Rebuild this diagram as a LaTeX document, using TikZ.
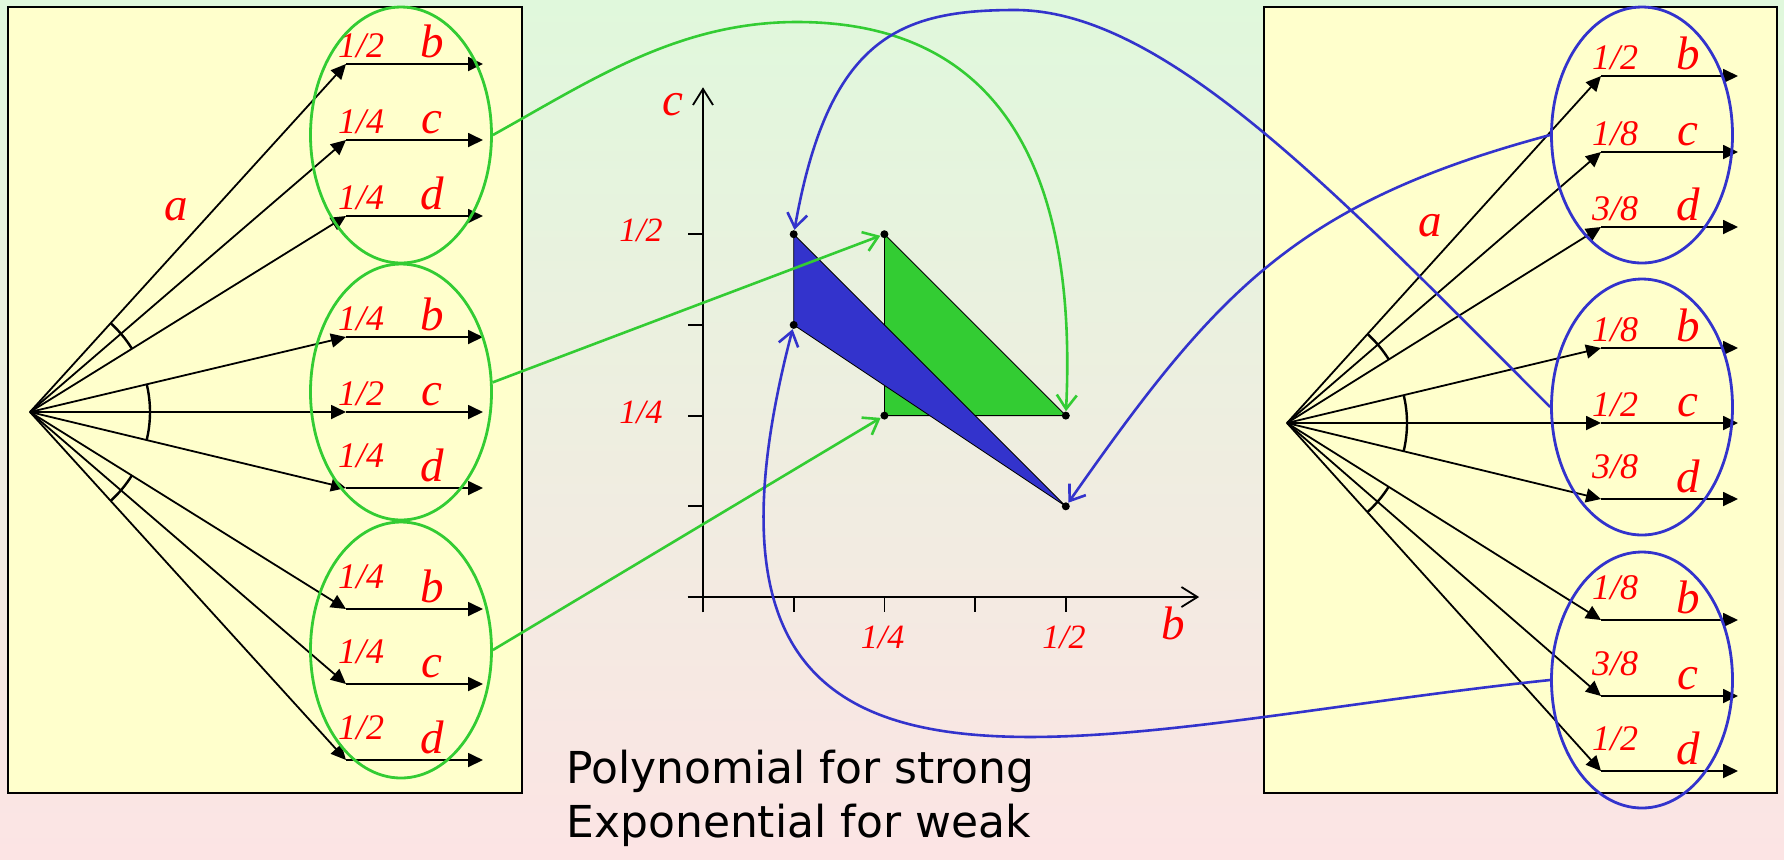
\documentclass[tikz,border=0pt]{standalone}
\usepackage{fontspec}
\setmainfont{Liberation Serif}
\newfontfamily\notefont{DejaVu Sans}
\usetikzlibrary{arrows.meta,shapes.geometric,angles}
\definecolor{paneltint}{HTML}{FFFFCC}
\definecolor{gline}{HTML}{33CC33}
\definecolor{bline}{HTML}{3333CC}
\definecolor{bgtop}{HTML}{E0F8DC}
\definecolor{bgbot}{HTML}{FCE4E4}

\begin{document}
\begin{tikzpicture}[x=0.5pt, y=0.5pt,
      panel/.style={draw=black, line width=0.6pt, fill=paneltint},
      branch/.style={line width=0.9pt, -{Triangle[length=7.5pt,width=7pt]}},
      grp/.style={ellipse, draw=#1, line width=1.4pt, minimum width=90.5pt, minimum height=128pt, inner sep=0pt},
      prob/.style={text=red, font=\fontsize{18}{20}\selectfont\itshape, inner sep=0pt, anchor=base},
      sym/.style={text=red, font=\fontsize{23.5}{26}\selectfont\itshape, inner sep=0pt, anchor=base},
      ticklab/.style={text=red, font=\fontsize{17}{19}\selectfont\itshape, inner sep=0pt},
      vtx/.style={circle, fill=black, minimum size=4pt, inner sep=0pt},
      link/.style={draw=#1, line width=1.3pt, -{Straight Barb[length=7pt,width=10pt]}},
      wedge/.style={draw, line width=1.2pt, angle radius=60pt},
      axis/.style={line width=0.9pt},
      note/.style={font=\notefont\fontsize{22}{27}\selectfont, anchor=base west, inner sep=0pt}]
    \shade[top color=bgtop, bottom color=bgbot] (0,0) rectangle (1784,-859);
    \useasboundingbox (0,0) rectangle (1784,-859);

    \draw[panel] (8,-7) rectangle (522,-793);
    \coordinate (lroot) at (30,-412);
    \foreach \i/\y/\f/\s/\o in {1/64/{1/2}/b/7, 2/140/{1/4}/c/7, 3/216/{1/4}/d/7, 4/337/{1/4}/b/7, 5/412/{1/2}/c/7, 6/488/{1/4}/d/21, 7/609/{1/4}/b/21, 8/684/{1/4}/c/21, 9/760/{1/2}/d/21} {
      \coordinate (l\i) at (346,-\y);
      \coordinate (lx\i) at (483,-\y);
      \draw[branch] (lroot) -- (l\i);
      \draw[branch] (l\i) -- (lx\i);
      \node[prob] (lp\i) at (361,-\y+\o) {\f};
      \node[sym] (ls\i) at (432,-\y+7) {\s};
    }
    \pic[wedge] {angle=l3--lroot--l1};
    \pic[wedge] {angle=l6--lroot--l4};
    \pic[wedge] {angle=l9--lroot--l7};
    \node[sym] (la) at (176,-220) {a};
    \node[grp=gline] (le1) at (401,-135) {};
    \node[grp=gline] (le2) at (401,-392) {};
    \node[grp=gline] (le3) at (401,-650) {};

    \draw[panel] (1264,-7) rectangle (1777,-793);
    \coordinate (rroot) at (1287,-423);
    \foreach \i/\y/\f/\s/\o in {1/76/{1/2}/b/7, 2/152/{1/8}/c/7, 3/227/{3/8}/d/7, 4/348/{1/8}/b/7, 5/423/{1/2}/c/7, 6/499/{3/8}/d/21, 7/620/{1/8}/b/21, 8/696/{3/8}/c/21, 9/771/{1/2}/d/21} {
      \coordinate (r\i) at (1601,-\y);
      \coordinate (rx\i) at (1738,-\y);
      \draw[branch] (rroot) -- (r\i);
      \draw[branch] (r\i) -- (rx\i);
      \node[prob] (rp\i) at (1615,-\y+\o) {\f};
      \node[sym] (rs\i) at (1688,-\y+7) {\s};
    }
    \pic[wedge] {angle=r3--rroot--r1};
    \pic[wedge] {angle=r6--rroot--r4};
    \pic[wedge] {angle=r9--rroot--r7};
    \node[sym] (ra) at (1430,-236) {a};
    \node[grp=bline] (re1) at (1642,-135) {};
    \node[grp=bline] (re2) at (1642,-407) {};
    \node[grp=bline] (re3) at (1642,-680) {};

    \begin{scope}[shift={(703,-597)}, x=45.35pt, y=45.35pt]
      \draw[axis, -{Straight Barb[length=8pt,width=10pt]}] (-0.17,0) -- (5.47,0);
      \draw[axis, -{Straight Barb[length=8pt,width=10pt]}] (0,-0.17) -- (0,5.62);
      \foreach \k in {1,...,4} {
        \draw[axis] (\k,0) -- (\k,-0.17);
        \draw[axis] (0,\k) -- (-0.16,\k);
      }
      \filldraw[fill=gline, draw=black, line width=0.4pt] (2,4) -- (2,2) -- (4,2) -- cycle;
      \filldraw[fill=bline, draw=black, line width=0.4pt] (1,4) -- (1,3) -- (4,1) -- cycle;
      \node[vtx] (g1) at (2,4) {};
      \node[vtx] (g2) at (2,2) {};
      \node[vtx] (g3) at (4,2) {};
      \node[vtx] (b1) at (1,4) {};
      \node[vtx] (b2) at (1,3) {};
      \node[vtx] (b3) at (4,1) {};
      \node[ticklab, anchor=east] (yt4) at (-0.44,4.04) {1/2};
      \node[ticklab, anchor=east] (yt2) at (-0.44,2.04) {1/4};
      \node[ticklab] (xt2) at (1.98,-0.45) {1/4};
      \node[ticklab] (xt4) at (3.98,-0.45) {1/2};
      \node[sym] (cax) at (-0.33,5.31) {c};
      \node[sym] (bax) at (5.19,-0.47) {b};
    \end{scope}

    \coordinate (gtop) at (797,-22);
    \coordinate (btop) at (1015,-10);
    \draw[link=gline] (le1.east) .. controls +(29:110) and +(-120,0) .. (gtop) .. controls +(200,0) and +(12,250) .. (g3);
    \draw[link=gline] (le2.6) -- (g1);
    \draw[link=gline] (le3.east) -- (g2);
    \draw[link=bline] (re1.west) .. controls +(195:263) and +(55:263) .. (b3);
    \draw[link=bline] (re2.west) .. controls +(135:300) and +(150,0) .. (btop) .. controls +(-115,0) and +(80:200) .. (b1);
    \draw[link=bline] (re3.west) .. controls +(-477,-50) and +(-145,-555) .. (b2);

    \node[note] (note1) at (566,-783) {Polynomial for strong};
    \node[note] (note2) at (566,-837) {Exponential for weak};
  \end{tikzpicture}
\end{document}
